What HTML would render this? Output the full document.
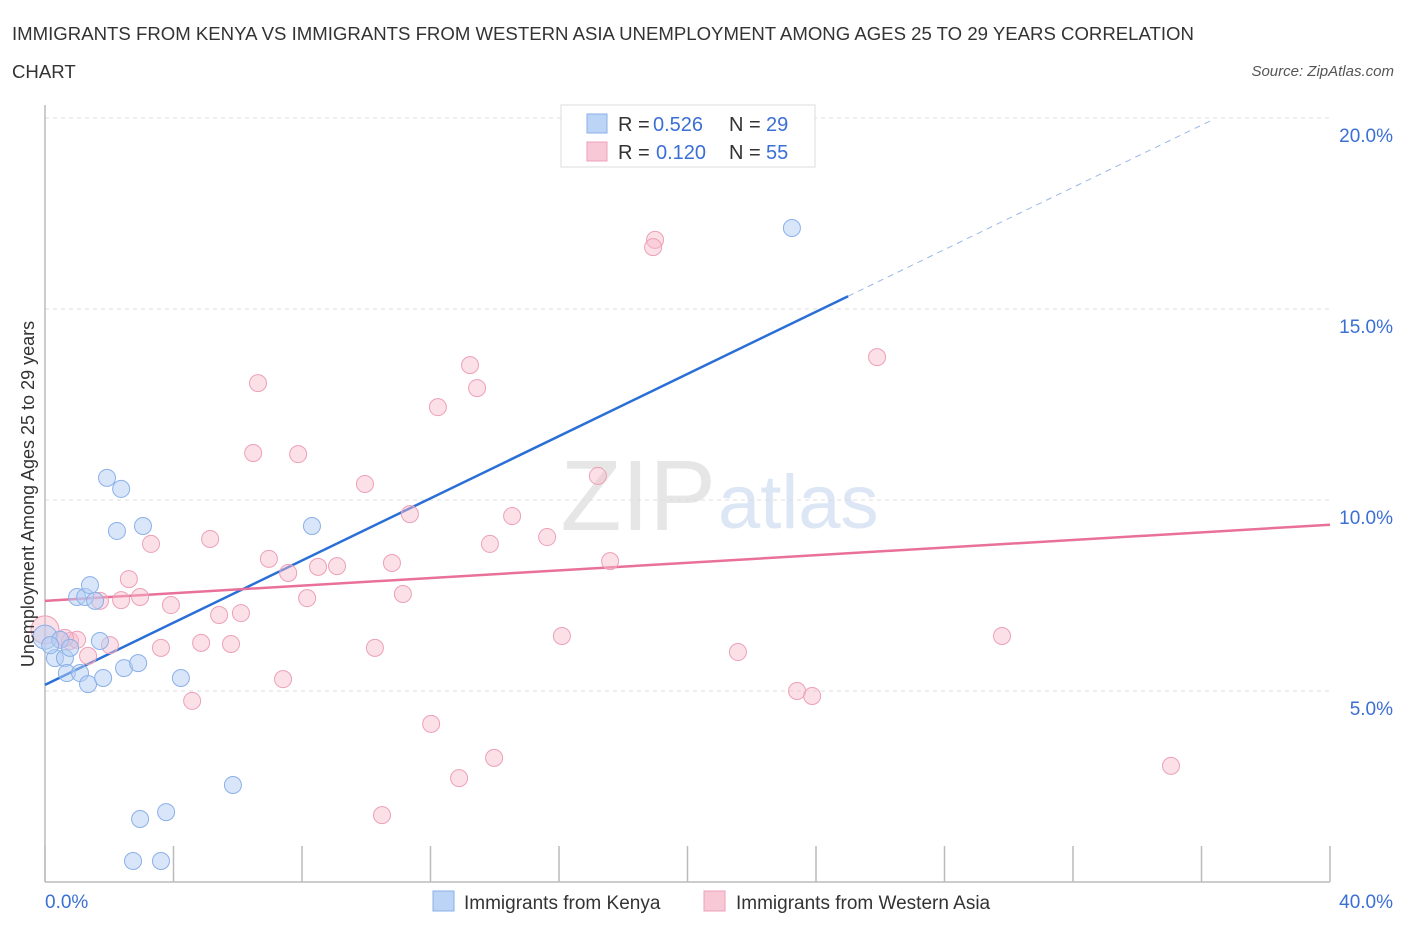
<!DOCTYPE html>
<html><head><meta charset="utf-8"><style>
body{margin:0;background:#fff;font-family:"Liberation Sans",sans-serif}
svg text{font-family:"Liberation Sans",sans-serif}
</style></head><body>
<svg id="chart" width="1406" height="930" xmlns="http://www.w3.org/2000/svg">
<text x="12" y="40" font-size="18.6" fill="#333">IMMIGRANTS FROM KENYA VS IMMIGRANTS FROM WESTERN ASIA UNEMPLOYMENT AMONG AGES 25 TO 29 YEARS CORRELATION</text>
<text x="12" y="78" font-size="18.6" fill="#333">CHART</text>
<text x="1394" y="76" font-size="15" fill="#555" font-style="italic" text-anchor="end">Source: ZipAtlas.com</text>
<text x="716" y="530" font-size="100" fill="#e6e6e6" text-anchor="end" font-family="Liberation Serif">ZIP</text>
<text x="718" y="528" font-size="76" fill="#dce6f5">atlas</text>
<g id="grid"></g><g id="axes"></g><g id="lines"></g><g id="pts"></g>
<text transform="translate(34,494) rotate(-90)" font-size="18" fill="#333" text-anchor="middle">Unemployment Among Ages 25 to 29 years</text>
<g>
<rect x="561" y="105" width="254" height="62" fill="#fff" stroke="#ddd"/>
<rect x="587" y="114" width="20" height="19" fill="#bcd4f6" stroke="#8ab0e8"/>
<rect x="587" y="142" width="20" height="19" fill="#f9c8d6" stroke="#eca0b8"/>
<text x="618" y="131" font-size="20" fill="#333">R =</text>
<text x="653" y="131" font-size="20" fill="#3b6fd4">0.526</text>
<text x="729" y="131" font-size="20" fill="#333">N =</text>
<text x="766" y="131" font-size="20" fill="#3b6fd4">29</text>
<text x="618" y="159" font-size="20" fill="#333">R =</text>
<text x="656" y="159" font-size="20" fill="#3b6fd4">0.120</text>
<text x="729" y="159" font-size="20" fill="#333">N =</text>
<text x="766" y="159" font-size="20" fill="#3b6fd4">55</text>
</g>
<g>
<rect x="433" y="891" width="21" height="20" fill="#bcd4f6" stroke="#8ab0e8"/>
<text x="464" y="909" font-size="19" fill="#333">Immigrants from Kenya</text>
<rect x="704" y="891" width="21" height="20" fill="#f9c8d6" stroke="#eca0b8"/>
<text x="736" y="909" font-size="19" fill="#333">Immigrants from Western Asia</text>
</g>
</svg>
<script>
const kenyaX=[0,0.31,0.62,0.47,0.78,0.68,1.0,1.25,1.4,1.56,1.09,1.34,1.71,1.81,1.93,2.37,2.24,3.05,2.46,2.9,4.23,5.85,2.96,3.77,2.74,3.61,8.31,23.25,0.16];
const kenyaY=[6.41,5.86,5.86,6.34,6.13,5.47,7.46,7.46,7.77,7.36,5.47,5.18,6.31,5.34,10.58,10.29,9.19,9.32,5.6,5.73,5.34,2.54,1.65,1.83,0.55,0.55,9.32,17.12,6.2];
const waX=[0,0.47,0.78,1.34,1.71,2.02,2.37,2.61,2.96,3.3,3.61,3.92,4.58,4.86,5.14,5.42,5.79,6.1,6.63,6.48,6.97,7.41,7.57,7.88,8.16,8.5,9.09,9.96,10.27,10.49,10.8,11.14,11.36,12.02,12.23,12.89,13.23,13.45,13.85,13.98,14.54,15.63,16.09,17.21,17.59,18.99,18.93,21.57,23.41,23.88,25.9,29.79,35.05,1.0,0.62];
const waY=[6.6,6.34,6.31,5.92,7.36,6.2,7.38,7.93,7.46,8.85,6.13,7.25,4.74,6.26,8.98,6.99,6.23,7.04,13.06,11.23,8.46,5.31,8.09,11.2,7.43,8.25,8.27,10.42,6.13,1.75,8.35,7.54,9.63,4.14,12.43,2.72,13.53,12.93,8.85,3.25,9.58,9.03,6.44,10.63,8.4,16.81,16.62,6.02,5.0,4.87,13.74,6.44,3.04,6.34,6.39];
const yTicks=[5,10,15,20];
const yTickLabels=["5.0%","10.0%","15.0%","20.0%"];
const xTicks=[0,4,8,12,16,20,24,28,32,36,40];
const kenyaFit=[5.16,0.407];const waFit=[7.36,0.0498];
const NS="http://www.w3.org/2000/svg";
const sx=v=>45+v/40*1285, sy=v=>882-v*38.2;
function mk(t,a,p){const e=document.createElementNS(NS,t);for(const k in a)e.setAttribute(k,a[k]);document.getElementById(p).appendChild(e);return e;}
yTicks.forEach((t,i)=>{
 const g=mk('line',{x1:45,x2:1330,y1:sy(t),y2:sy(t),stroke:'#ddd','stroke-dasharray':'4,4'},'grid');
 
 
 const l=mk('text',{x:1393,y:sy(t)+24,'font-size':19,fill:'#3b6fd4','text-anchor':'end'},'grid');
 
 
 l.textContent=yTickLabels[i];
});
const xa=mk('line',{x1:45,x2:1330,y1:882,y2:882,stroke:'#bbb','stroke-width':1.5},'axes');


const ya=mk('line',{x1:45,x2:45,y1:105,y2:882,stroke:'#bbb','stroke-width':1.5},'axes');


xTicks.forEach(t=>{const e=mk('line',{x1:sx(t),x2:sx(t),y1:846,y2:882,stroke:'#bbb','stroke-width':1.5},'axes');
 
 });
[["0.0%",45,'start'],["40.0%",1393,'end']].forEach(a=>{const e=mk('text',{x:a[1],y:908,'font-size':19,fill:'#3b6fd4','text-anchor':a[2]},'axes');
 
 
 e.textContent=a[0];});
waX.forEach((x,i)=>{const c=mk('circle',{cx:sx(x),cy:sy(waY[i]),r:i==0?14:8.5,fill:'rgba(248,186,205,0.45)',stroke:'#eca0b8','stroke-width':1},'pts');
 
 });
kenyaX.forEach((x,i)=>{const c=mk('circle',{cx:sx(x),cy:sy(kenyaY[i]),r:i==0?12:8.5,fill:'rgba(180,206,244,0.5)',stroke:'#8ab0e8','stroke-width':1},'pts');
 
 });
const kl=mk('line',{x1:sx(0),y1:sy(kenyaFit[0]),x2:sx(25),y2:sy(kenyaFit[0]+kenyaFit[1]*25),stroke:'#2a6fd6','stroke-width':2.5},'lines');


const kd=mk('line',{x1:sx(25),y1:sy(kenyaFit[0]+kenyaFit[1]*25),x2:sx(36.3),y2:sy(kenyaFit[0]+kenyaFit[1]*36.3),stroke:'#9ab8e6','stroke-width':1,'stroke-dasharray':'6,5'},'lines');


const wl=mk('line',{x1:sx(0),y1:sy(waFit[0]),x2:sx(40),y2:sy(waFit[0]+waFit[1]*40),stroke:'#e8709a','stroke-width':2.5},'lines');


</script>
</body></html>
